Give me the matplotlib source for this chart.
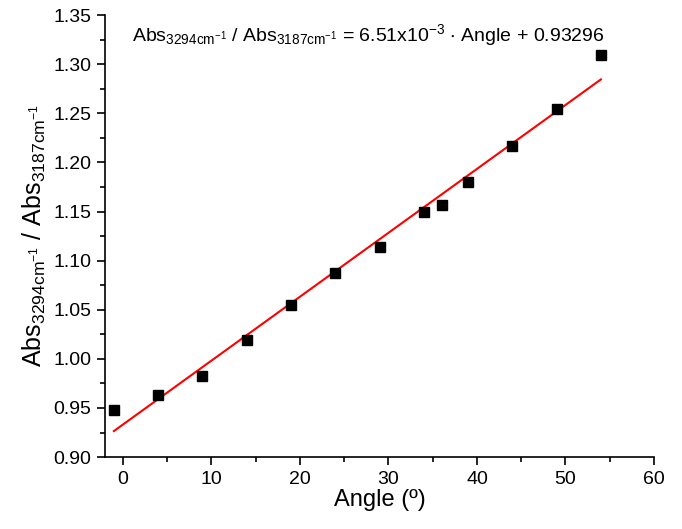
import numpy as np
import matplotlib.pyplot as plt
from matplotlib.ticker import MultipleLocator

plt.rcParams['font.family'] = ['Liberation Sans', 'DejaVu Sans']
plt.rcParams['mathtext.fontset'] = 'custom'
plt.rcParams['mathtext.rm'] = 'Liberation Sans'
plt.rcParams['mathtext.it'] = 'Liberation Sans'
plt.rcParams['mathtext.default'] = 'regular'

# data
angle = [-1, 4, 9, 14, 19, 24, 29, 34, 36, 39, 44, 49, 54]
ratio = [0.948, 0.963, 0.983, 1.019, 1.055, 1.087, 1.114, 1.149, 1.157, 1.180, 1.217, 1.254, 1.309]
slope = 6.51e-3
intercept = 0.93296

fig = plt.figure(figsize=(6.82, 5.29), dpi=100)
ax = fig.add_axes([0.154, 0.136, 0.805, 0.8355])

ax.plot(angle, ratio, 's', color='black', markersize=7.5, zorder=3)
xf = np.array([angle[0], angle[-1]])
ax.plot(xf, slope * xf + intercept, color='red', linewidth=1.5, zorder=2)

ax.set_xlim(-2, 60)
ax.set_ylim(0.90, 1.35)
ax.xaxis.set_major_locator(MultipleLocator(10))
ax.xaxis.set_minor_locator(MultipleLocator(5))
ax.yaxis.set_major_locator(MultipleLocator(0.05))
ax.yaxis.set_minor_locator(MultipleLocator(0.025))
ax.yaxis.set_major_formatter(plt.FormatStrFormatter('%.2f'))

for s in ['top', 'right']:
    ax.spines[s].set_visible(False)
for s in ['left', 'bottom']:
    ax.spines[s].set_linewidth(1.2)
ax.tick_params(which='major', direction='out', length=6, width=1.2, labelsize=14, pad=4)
ax.tick_params(which='minor', direction='out', length=3.5, width=1.2)

ax.set_xlabel('Angle (º)', fontsize=17, labelpad=1)
ax.set_ylabel(r'Abs$_{3294cm^{-1}}$ / Abs$_{3187cm^{-1}}$', fontsize=18, labelpad=4)

ax.text(0.05, 0.985,
        r'Abs$_{3294cm^{-1}}$ / Abs$_{3187cm^{-1}}$ = 6.51x10$^{-3}$ $\cdot$ Angle + 0.93296',
        transform=ax.transAxes, fontsize=14, va='top', ha='left')

fig.savefig('out.png', dpi=100)
